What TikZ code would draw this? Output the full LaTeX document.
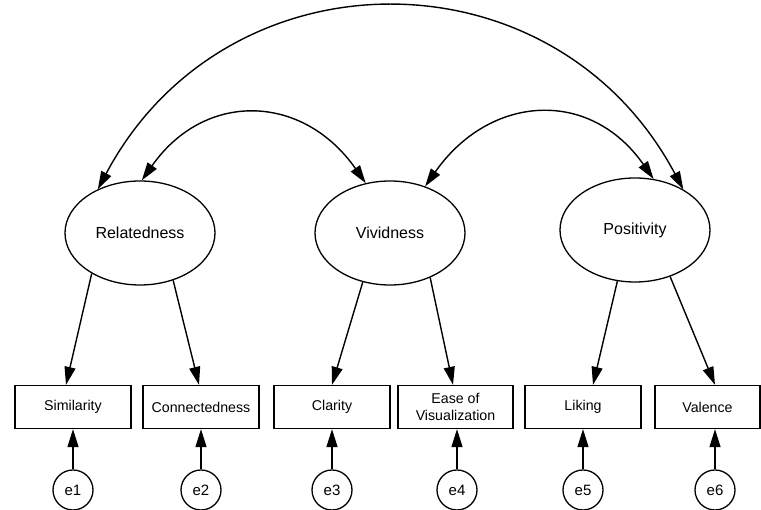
\documentclass[tikz,border=0pt]{standalone}
\usepackage{fontspec}
\setmainfont{Liberation Sans}
\usepackage{tikz}
\usetikzlibrary{arrows.meta, shapes.geometric, positioning}
\tikzset{
  % Graph arrow style
  garr/.style={
    line width = 1.4pt
    , >={Triangle[length=18pt, width=11pt]}
  },
}
\tikzset{
  %latent factor style
  latent/.style={
    draw
    , ellipse
    , line width=1.3pt
    , minimum width=150pt
    , minimum height=104pt
    , inner sep=0pt
    , font=\fontsize{16}{19}\selectfont
  },
  %observed variable style
  indicator/.style={
    draw
    , rectangle
    , line width=1.3pt
    , minimum width=116pt
    , minimum height=43pt
    , inner sep=0pt
    , align=center
    , font=\fontsize{14.2}{16.8}\selectfont
  },
  %error term style
  err/.style={
    draw
    , circle
    , line width=1.3pt
    , minimum size=40pt
    , inner sep=0pt
    , font=\fontsize{15}{18}\selectfont
  },
}

\begin{document}
\begin{tikzpicture}[x=1pt, y=1pt, node distance=83pt]
      \useasboundingbox (0,0) rectangle (761,510);

      \node[latent] (rel) at (140,277) {Relatedness};
      \node[latent] (viv) at (390,277) {Vividness};
      \node[latent] (pos) at (635,280) {Positivity};

      \node[indicator] (sim) at (73,103) {Similarity};
      \node[indicator] (con) at (201,103) {Connectedness};
      \node[indicator] (cla) at (332,103) {Clarity};
      \node[indicator, minimum width=115pt] (eas) at (455.5,103) {Ease of\\Visualization};
      \node[indicator] (lik) at (583,103) {Liking};
      \node[indicator, minimum width=105pt] (val) at (707.5,103) {Valence};

      \node[err, below of=sim] (e1) {e1};
      \node[err, below of=con] (e2) {e2};
      \node[err, below of=cla] (e3) {e3};
      \node[err, below of=eas, xshift=1.5pt] (e4) {e4};
      \node[err, below of=lik] (e5) {e5};
      \node[err, below of=val, xshift=7.5pt] (e6) {e6};

      \draw[garr,->] (rel.220) -- ([xshift=-7pt]sim.north);
      \draw[garr,->] (rel.305) -- ([xshift=-2pt]con.north);
      \draw[garr,->] (viv.241) -- (cla.north);
      \draw[garr,->] (viv.312) -- ([xshift=-2.5pt]eas.north);
      \draw[garr,->] (pos.251) -- ([xshift=10pt]lik.north);
      \draw[garr,->] (pos.307) -- ([xshift=7.5pt]val.north);

      \foreach \e/\v in {e1/sim, e2/con, e3/cla, e4/eas, e5/lik, e6/val}
        \draw[garr,->] (\e.north) -- (\e |- \v.south);

      \draw[garr,<->] (rel.134) to[out=62, in=118, looseness=1.2] (pos.40);
      \draw[garr,<->] (rel.88) to[out=55, in=125, looseness=1.25] (viv.116);
      \draw[garr,<->] (viv.53) to[out=55, in=125, looseness=1.25] (pos.70);
    \end{tikzpicture}
\end{document}
